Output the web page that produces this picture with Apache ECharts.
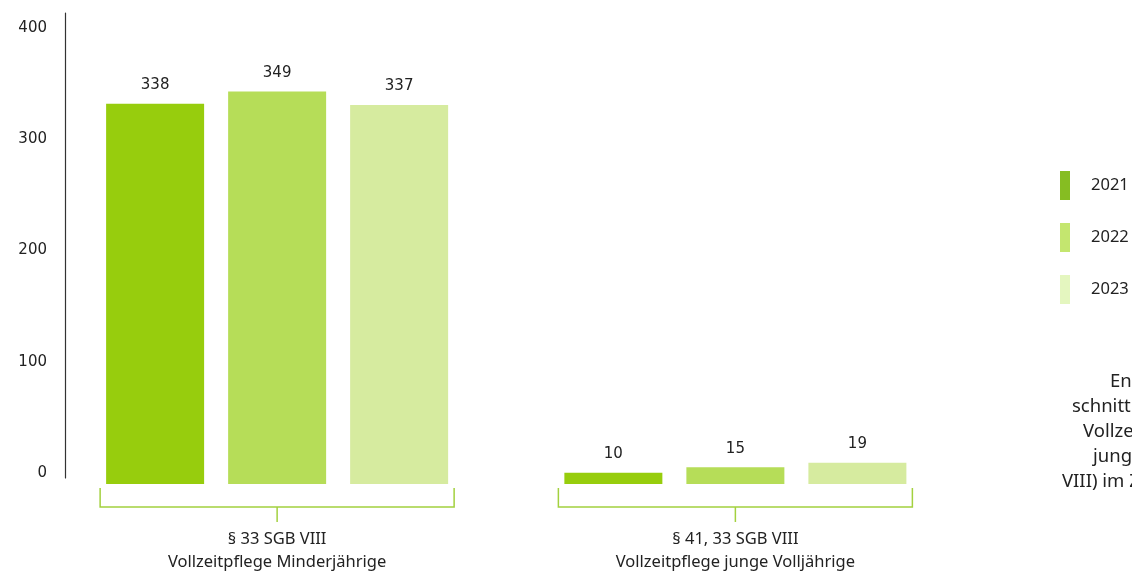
<!DOCTYPE html>
<html><head><meta charset="utf-8">
<script src="https://cdn.jsdelivr.net/npm/echarts@6/dist/echarts.min.js"></script>
<style>html,body{margin:0;padding:0;background:#fff}#c{width:1132px;height:574px}</style>
</head><body><div id="c"></div>
<script>
const categories = ['§ 33 SGB VIII\nVollzeitpflege Minderjährige', '§ 41, 33 SGB VIII\nVollzeitpflege junge Volljährige'];
const years = ['2021', '2022', '2023'];
const values2021 = [338, 10];
const values2022 = [349, 15];
const values2023 = [337, 19];
const yTickLabels = [0, 100, 200, 300, 400];
const barColors = ['#97cd0d', '#b6dd58', '#d6eb9f'];
const legendColors = ['#86bd22', '#c4e66f', '#e4f6bf'];
const sideText = ['Entwicklung', 'schnittlichen', 'Vollzeitpflege', 'junge Voll-', 'VIII) im Zeitraum'];

const seriesValues = [values2021, values2022, values2023];
const chart = echarts.init(document.getElementById('c'), null, {renderer: 'canvas'});
const numFont = 'DejaVu Sans';
const txtFont = 'Noto Sans';

const option = {
  animation: false,
  backgroundColor: '#ffffff',
  grid: [
    {left: 48, right: 167.5, top: 34, bottom: 88},
    {left: 65, width: 10, top: 13, bottom: 96}
  ],
  xAxis: [
    {type: 'category', gridIndex: 0, data: categories,
     axisLine: {show: false}, axisTick: {show: false},
     axisLabel: {margin: 44, fontFamily: txtFont, fontSize: 16.5, lineHeight: 23, color: '#222'}},
    {type: 'value', gridIndex: 1, show: false}
  ],
  yAxis: [
    {type: 'value', gridIndex: 0, min: 0, max: 400, show: false},
    {type: 'value', gridIndex: 1, min: -4.5, max: 413.5,
     axisLine: {show: true, lineStyle: {color: '#333', width: 1.2}},
     axisTick: {show: false}, splitLine: {show: false},
     axisLabel: {customValues: yTickLabels, margin: 18, fontFamily: numFont, fontSize: 15, color: '#222'}}
  ],
  legend: {
    orient: 'vertical', left: 1055, top: 166, itemWidth: 10, itemHeight: 29, itemGap: 23,
    icon: 'rect', selectedMode: false,
    textStyle: {fontFamily: txtFont, fontSize: 16.5, color: '#222', padding: [2, 0, 0, 16]},
    data: years.map((y, i) => ({name: y, itemStyle: {color: legendColors[i]}}))
  },
  series: years.map((y, i) => ({
    name: y, type: 'bar', xAxisIndex: 0, yAxisIndex: 0,
    data: seriesValues[i], barWidth: 98, barGap: '24.5%',
    itemStyle: {color: barColors[i]},
    label: {show: true, position: 'top', distance: 11, fontFamily: numFont, fontSize: 15, color: '#222'}
  }))
};
chart.setOption(option);

// brackets under each group and cut-off side text
const gfx = [];
categories.forEach((c, i) => {
  const cx = chart.convertToPixel({xAxisIndex: 0}, i);
  const half = 177;
  gfx.push({type: 'polyline', shape: {points: [[cx - half, 488], [cx - half, 507], [cx + half, 507], [cx + half, 488]]},
    style: {stroke: '#a3d13f', lineWidth: 1.5, fill: null}});
  gfx.push({type: 'line', shape: {x1: cx, y1: 507, x2: cx, y2: 522}, style: {stroke: '#a3d13f', lineWidth: 1.5}});
});
const sideX = [1110, 1072, 1083, 1093, 1062];
sideText.forEach((t, i) => {
  gfx.push({type: 'text', left: sideX[i], top: 372 + i * 25,
    style: {text: t, fontFamily: txtFont, fontSize: 18.5, fill: '#222'}});
});
chart.setOption({graphic: gfx});
</script></body></html>
